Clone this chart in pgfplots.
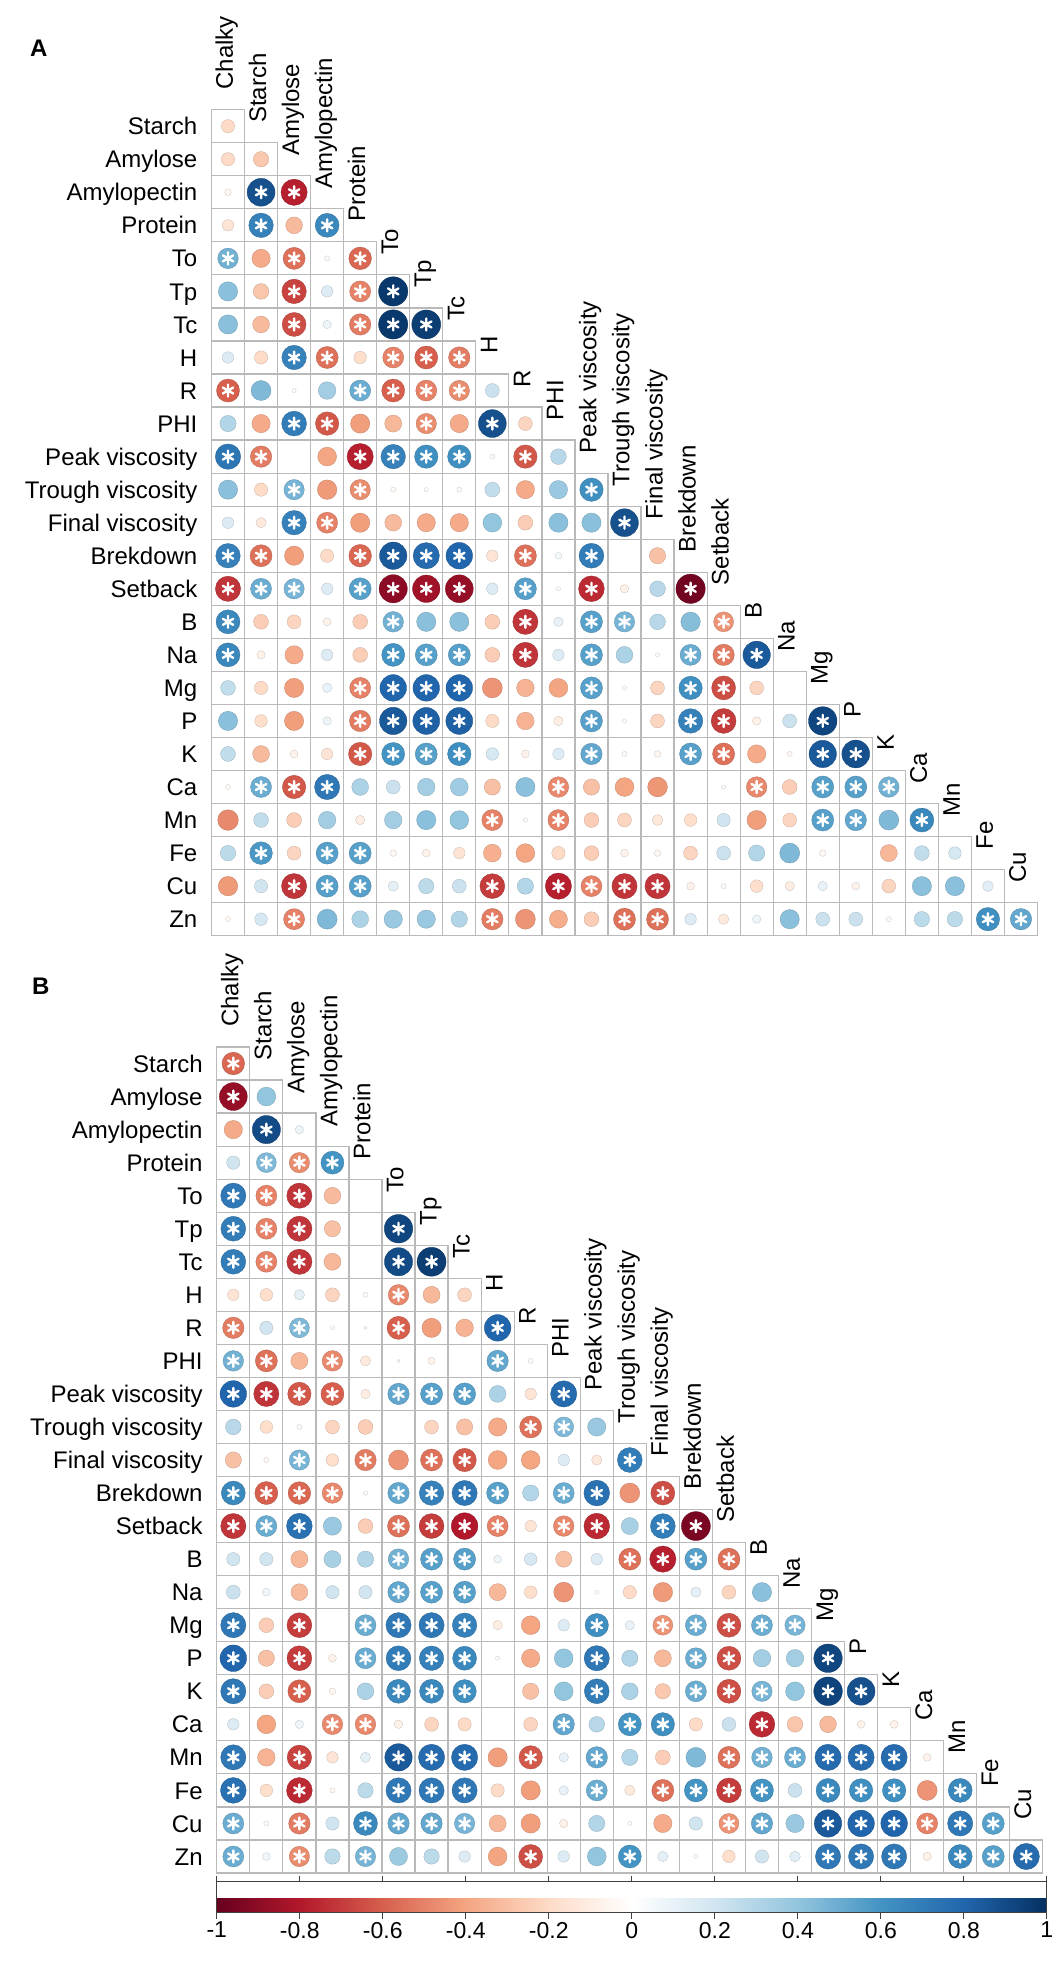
\documentclass[border=0pt]{standalone}
\usepackage{pgfplots}
\pgfplotsset{compat=1.18}
\usepackage{pgfplotstable}
\usepackage{fontspec}
\setmainfont{Liberation Sans}
\usetikzlibrary{plotmarks}

\newcommand\labfont{\fontsize{24}{28}\selectfont}

\pgfplotsset{
  colormap={RdBu}{rgb255=(103,0,31) rgb255=(178,24,43) rgb255=(214,96,77)
    rgb255=(244,165,130) rgb255=(253,219,199) rgb255=(255,255,255)
    rgb255=(209,229,240) rgb255=(146,197,222) rgb255=(67,147,195)
    rgb255=(33,102,172) rgb255=(5,48,97)},
  corr/.style={
    x=33.04pt, y=33.04pt, y dir=reverse,
    xmin=-0.5, xmax=24.5, ymin=0.5, ymax=25.5,
    clip=false, anchor=south west,
    axis line style={draw=none}, major tick length=0pt,
    xtick=\empty, ytick={1,...,25},
    yticklabels={Starch,Amylose,Amylopectin,Protein,To,Tp,Tc,H,R,PHI,Peak viscosity,Trough viscosity,Final viscosity,Brekdown,Setback,B,Na,Mg,P,K,Ca,Mn,Fe,Cu,Zn},
    yticklabel style={anchor=base east, inner sep=0pt, xshift=-14pt, yshift=-8.6pt, font=\labfont},
    colormap name=RdBu, point meta min=-1, point meta max=1,
  },
}

% x = column, y = row, r = correlation, s = significant
\pgfplotstableread[row sep=\\]{
x y r s \\
0 1 -0.20 0 \\
0 2 -0.20 0 \\ 1 2 -0.27 0 \\
0 3 -0.05 0 \\ 1 3 0.88 1 \\ 2 3 -0.78 1 \\
0 4 -0.15 0 \\ 1 4 0.68 1 \\ 2 4 -0.32 0 \\ 3 4 0.65 1 \\
0 5 0.48 1 \\ 1 5 -0.38 0 \\ 2 5 -0.55 1 \\ 3 5 0.03 0 \\ 4 5 -0.58 1 \\
0 6 0.42 0 \\ 1 6 -0.28 0 \\ 2 6 -0.68 1 \\ 3 6 0.15 0 \\ 4 6 -0.50 1 \\ 5 6 0.97 1 \\
0 7 0.42 0 \\ 1 7 -0.32 0 \\ 2 7 -0.65 1 \\ 3 7 0.08 0 \\ 4 7 -0.52 1 \\ 5 7 0.97 1 \\ 6 7 0.95 1 \\
0 8 0.15 0 \\ 1 8 -0.20 0 \\ 2 8 0.68 1 \\ 3 8 -0.55 1 \\ 4 8 -0.18 0 \\ 5 8 -0.50 1 \\ 6 8 -0.60 1 \\ 7 8 -0.52 1 \\
0 9 -0.60 1 \\ 1 9 0.45 0 \\ 2 9 0.02 0 \\ 3 9 0.35 0 \\ 4 9 0.50 1 \\ 5 9 -0.60 1 \\ 6 9 -0.50 1 \\ 7 9 -0.47 1 \\ 8 9 0.22 0 \\
0 10 0.30 0 \\ 1 10 -0.38 0 \\ 2 10 0.70 1 \\ 3 10 -0.62 1 \\ 4 10 -0.42 0 \\ 5 10 -0.33 0 \\ 6 10 -0.47 1 \\ 7 10 -0.38 0 \\ 8 10 0.88 1 \\ 9 10 -0.22 0 \\
0 11 0.73 1 \\ 1 11 -0.52 1 \\ 2 11 0.00 0 \\ 3 11 -0.40 0 \\ 4 11 -0.78 1 \\ 5 11 0.68 1 \\ 6 11 0.62 1 \\ 7 11 0.62 1 \\ 8 11 0.03 0 \\ 9 11 -0.62 1 \\ 10 11 0.28 0 \\
0 12 0.42 0 \\ 1 12 -0.20 0 \\ 2 12 0.47 1 \\ 3 12 -0.43 0 \\ 4 12 -0.47 1 \\ 5 12 -0.03 0 \\ 6 12 0.02 0 \\ 7 12 0.03 0 \\ 8 12 0.25 0 \\ 9 12 -0.38 0 \\ 10 12 0.38 0 \\ 11 12 0.62 1 \\
0 13 0.15 0 \\ 1 13 -0.12 0 \\ 2 13 0.68 1 \\ 3 13 -0.50 1 \\ 4 13 -0.42 0 \\ 5 13 -0.32 0 \\ 6 13 -0.38 0 \\ 7 13 -0.38 0 \\ 8 13 0.40 0 \\ 9 13 -0.25 0 \\ 10 13 0.42 0 \\ 11 13 0.42 0 \\ 12 13 0.88 1 \\
0 14 0.68 1 \\ 1 14 -0.55 1 \\ 2 14 -0.42 0 \\ 3 14 -0.20 0 \\ 4 14 -0.58 1 \\ 5 14 0.85 1 \\ 6 14 0.78 1 \\ 7 14 0.80 1 \\ 8 14 -0.15 0 \\ 9 14 -0.55 1 \\ 10 14 0.05 0 \\ 11 14 0.70 1 \\ 12 14 0.00 0 \\ 13 14 -0.30 0 \\
0 15 -0.72 1 \\ 1 15 0.50 1 \\ 2 15 0.47 1 \\ 3 15 0.15 0 \\ 4 15 0.55 1 \\ 5 15 -0.90 1 \\ 6 15 -0.85 1 \\ 7 15 -0.88 1 \\ 8 15 0.15 0 \\ 9 15 0.55 1 \\ 10 15 0.02 0 \\ 11 15 -0.75 1 \\ 12 15 -0.08 0 \\ 13 15 0.28 0 \\ 14 15 -0.97 1 \\
0 16 0.65 1 \\ 1 16 -0.25 0 \\ 2 16 -0.22 0 \\ 3 16 -0.07 0 \\ 4 16 -0.25 0 \\ 5 16 0.48 1 \\ 6 16 0.42 0 \\ 7 16 0.42 0 \\ 8 16 -0.25 0 \\ 9 16 -0.72 1 \\ 10 16 0.10 0 \\ 11 16 0.55 1 \\ 12 16 0.47 1 \\ 13 16 0.28 0 \\ 14 16 0.43 0 \\ 15 16 -0.45 1 \\
0 17 0.65 1 \\ 1 17 -0.08 0 \\ 2 17 -0.38 0 \\ 3 17 0.15 0 \\ 4 17 -0.25 0 \\ 5 17 0.60 1 \\ 6 17 0.55 1 \\ 7 17 0.55 1 \\ 8 17 -0.25 0 \\ 9 17 -0.72 1 \\ 10 17 0.15 0 \\ 11 17 0.55 1 \\ 12 17 0.32 0 \\ 13 17 0.02 0 \\ 14 17 0.50 1 \\ 15 17 -0.52 1 \\ 16 17 0.85 1 \\
0 18 0.25 0 \\ 1 18 -0.20 0 \\ 2 18 -0.42 0 \\ 3 18 0.10 0 \\ 4 18 -0.50 1 \\ 5 18 0.80 1 \\ 6 18 0.80 1 \\ 7 18 0.80 1 \\ 8 18 -0.45 0 \\ 9 18 -0.35 0 \\ 10 18 -0.40 0 \\ 11 18 0.55 1 \\ 12 18 0.02 0 \\ 13 18 -0.22 0 \\ 14 18 0.62 1 \\ 15 18 -0.65 1 \\ 16 18 -0.22 0 \\ 17 18 0.00 0 \\
0 19 0.42 0 \\ 1 19 -0.18 0 \\ 2 19 -0.42 0 \\ 3 19 0.08 0 \\ 4 19 -0.52 1 \\ 5 19 0.85 1 \\ 6 19 0.82 1 \\ 7 19 0.82 1 \\ 8 19 -0.20 0 \\ 9 19 -0.35 0 \\ 10 19 -0.10 0 \\ 11 19 0.55 1 \\ 12 19 0.02 0 \\ 13 19 -0.22 0 \\ 14 19 0.68 1 \\ 15 19 -0.70 1 \\ 16 19 -0.08 0 \\ 17 19 0.22 0 \\ 18 19 0.92 1 \\
0 20 0.25 0 \\ 1 20 -0.32 0 \\ 2 20 -0.07 0 \\ 3 20 -0.15 0 \\ 4 20 -0.62 1 \\ 5 20 0.60 1 \\ 6 20 0.55 1 \\ 7 20 0.62 1 \\ 8 20 0.18 0 \\ 9 20 -0.07 0 \\ 10 20 0.15 0 \\ 11 20 0.52 1 \\ 12 20 0.03 0 \\ 13 20 -0.05 0 \\ 14 20 0.55 1 \\ 15 20 -0.55 1 \\ 16 20 -0.38 0 \\ 17 20 -0.03 0 \\ 18 20 0.85 1 \\ 19 20 0.88 1 \\
0 21 -0.03 0 \\ 1 21 0.50 1 \\ 2 21 -0.62 1 \\ 3 21 0.72 1 \\ 4 21 0.32 0 \\ 5 21 0.22 0 \\ 6 21 0.35 0 \\ 7 21 0.36 0 \\ 8 21 -0.30 0 \\ 9 21 0.42 0 \\ 10 21 -0.48 1 \\ 11 21 -0.30 0 \\ 12 21 -0.40 0 \\ 13 21 -0.44 0 \\ 14 21 0.00 0 \\ 15 21 0.02 0 \\ 16 21 -0.48 1 \\ 17 21 -0.25 0 \\ 18 21 0.55 1 \\ 19 21 0.55 1 \\ 20 21 0.48 1 \\
0 22 -0.48 0 \\ 1 22 0.25 0 \\ 2 22 -0.25 0 \\ 3 22 0.35 0 \\ 4 22 -0.10 0 \\ 5 22 0.35 0 \\ 6 22 0.42 0 \\ 7 22 0.40 0 \\ 8 22 -0.50 1 \\ 9 22 0.02 0 \\ 10 22 -0.50 1 \\ 11 22 -0.25 0 \\ 12 22 -0.22 0 \\ 13 22 -0.13 0 \\ 14 22 -0.18 0 \\ 15 22 0.20 0 \\ 16 22 -0.42 0 \\ 17 22 -0.22 0 \\ 18 22 0.55 1 \\ 19 22 0.52 1 \\ 20 22 0.45 0 \\ 21 22 0.65 1 \\
0 23 0.27 0 \\ 1 23 0.58 1 \\ 2 23 -0.22 0 \\ 3 23 0.55 1 \\ 4 23 0.55 1 \\ 5 23 -0.05 0 \\ 6 23 -0.07 0 \\ 7 23 -0.15 0 \\ 8 23 -0.36 0 \\ 9 23 -0.40 0 \\ 10 23 -0.20 0 \\ 11 23 -0.25 0 \\ 12 23 -0.07 0 \\ 13 23 -0.05 0 \\ 14 23 -0.22 0 \\ 15 23 0.22 0 \\ 16 23 0.30 0 \\ 17 23 0.45 0 \\ 18 23 -0.05 0 \\ 19 23 0.00 0 \\ 20 23 -0.33 0 \\ 21 23 0.25 0 \\ 22 23 0.18 0 \\
0 24 -0.43 0 \\ 1 24 0.20 0 \\ 2 24 -0.72 1 \\ 3 24 0.55 1 \\ 4 24 0.55 1 \\ 5 24 0.12 0 \\ 6 24 0.27 0 \\ 7 24 0.22 0 \\ 8 24 -0.70 1 \\ 9 24 0.30 0 \\ 10 24 -0.78 1 \\ 11 24 -0.50 1 \\ 12 24 -0.72 1 \\ 13 24 -0.72 1 \\ 14 24 -0.07 0 \\ 15 24 0.03 0 \\ 16 24 -0.18 0 \\ 17 24 -0.10 0 \\ 18 24 0.10 0 \\ 19 24 -0.07 0 \\ 20 24 -0.22 0 \\ 21 24 0.42 0 \\ 22 24 0.42 0 \\ 23 24 0.13 0 \\
0 25 -0.03 0 \\ 1 25 0.18 0 \\ 2 25 -0.50 1 \\ 3 25 0.45 0 \\ 4 25 0.32 0 \\ 5 25 0.38 0 \\ 6 25 0.38 0 \\ 7 25 0.30 0 \\ 8 25 -0.52 1 \\ 9 25 -0.45 0 \\ 10 25 -0.37 0 \\ 11 25 -0.25 0 \\ 12 25 -0.55 1 \\ 13 25 -0.55 1 \\ 14 25 0.15 0 \\ 15 25 -0.12 0 \\ 16 25 0.08 0 \\ 17 25 0.42 0 \\ 18 25 0.22 0 \\ 19 25 0.22 0 \\ 20 25 0.03 0 \\ 21 25 0.27 0 \\ 22 25 0.27 0 \\ 23 25 0.62 1 \\ 24 25 0.52 1 \\
}\dataA

\pgfplotstableread[row sep=\\]{
x y r s \\
0 1 -0.58 1 \\
0 2 -0.88 1 \\ 1 2 0.40 0 \\
0 3 -0.38 0 \\ 1 3 0.90 1 \\ 2 3 0.08 0 \\
0 4 0.20 0 \\ 1 4 0.45 1 \\ 2 4 -0.47 1 \\ 3 4 0.60 1 \\
0 5 0.72 1 \\ 1 5 -0.50 1 \\ 2 5 -0.72 1 \\ 3 5 -0.32 0 \\ 4 5 0.00 0 \\
0 6 0.70 1 \\ 1 6 -0.50 1 \\ 2 6 -0.72 1 \\ 3 6 -0.30 0 \\ 4 6 0.00 0 \\ 5 6 0.92 1 \\
0 7 0.70 1 \\ 1 7 -0.50 1 \\ 2 7 -0.72 1 \\ 3 7 -0.33 0 \\ 4 7 0.00 0 \\ 5 7 0.90 1 \\ 6 7 0.95 1 \\
0 8 -0.15 0 \\ 1 8 -0.18 0 \\ 2 8 0.12 0 \\ 3 8 -0.22 0 \\ 4 8 0.03 0 \\ 5 8 -0.48 1 \\ 6 8 -0.33 0 \\ 7 8 -0.22 0 \\
0 9 -0.52 1 \\ 1 9 0.20 0 \\ 2 9 0.45 1 \\ 3 9 0.02 0 \\ 4 9 0.01 0 \\ 5 9 -0.60 1 \\ 6 9 -0.42 0 \\ 7 9 -0.35 0 \\ 8 9 0.80 1 \\
0 10 0.48 1 \\ 1 10 -0.55 1 \\ 2 10 -0.33 0 \\ 3 10 -0.48 1 \\ 4 10 -0.12 0 \\ 5 10 0.01 0 \\ 6 10 -0.06 0 \\ 7 10 0.00 0 \\ 8 10 0.52 1 \\ 9 10 0.03 0 \\
0 11 0.80 1 \\ 1 11 -0.72 1 \\ 2 11 -0.62 1 \\ 3 11 -0.60 1 \\ 4 11 -0.10 0 \\ 5 11 0.52 1 \\ 6 11 0.55 1 \\ 7 11 0.55 1 \\ 8 11 0.32 0 \\ 9 11 -0.15 0 \\ 10 11 0.78 1 \\
0 12 0.28 0 \\ 1 12 -0.18 0 \\ 2 12 0.03 0 \\ 3 12 -0.22 0 \\ 4 12 -0.25 0 \\ 5 12 0.00 0 \\ 6 12 -0.22 0 \\ 7 12 -0.30 0 \\ 8 12 -0.38 0 \\ 9 12 -0.55 1 \\ 10 12 0.45 1 \\ 11 12 0.38 0 \\
0 13 -0.30 0 \\ 1 13 -0.03 0 \\ 2 13 0.47 1 \\ 3 13 -0.18 0 \\ 4 13 -0.52 1 \\ 5 13 -0.45 0 \\ 6 13 -0.55 1 \\ 7 13 -0.62 1 \\ 8 13 -0.40 0 \\ 9 13 -0.40 0 \\ 10 13 0.15 0 \\ 11 13 -0.12 0 \\ 12 13 0.70 1 \\
0 14 0.65 1 \\ 1 14 -0.60 1 \\ 2 14 -0.58 1 \\ 3 14 -0.48 1 \\ 4 14 0.02 0 \\ 5 14 0.52 1 \\ 6 14 0.68 1 \\ 7 14 0.72 1 \\ 8 14 0.55 1 \\ 9 14 0.30 0 \\ 10 14 0.50 1 \\ 11 14 0.75 1 \\ 12 14 -0.45 0 \\ 13 14 -0.65 1 \\
0 15 -0.72 1 \\ 1 15 0.50 1 \\ 2 15 0.75 1 \\ 3 15 0.38 0 \\ 4 15 -0.25 0 \\ 5 15 -0.55 1 \\ 6 15 -0.70 1 \\ 7 15 -0.80 1 \\ 8 15 -0.50 1 \\ 9 15 -0.15 0 \\ 10 15 -0.48 1 \\ 11 15 -0.75 1 \\ 12 15 0.33 0 \\ 13 15 0.70 1 \\ 14 15 -0.95 1 \\
0 16 0.20 0 \\ 1 16 0.20 0 \\ 2 16 -0.33 0 \\ 3 16 0.33 0 \\ 4 16 0.30 0 \\ 5 16 0.48 1 \\ 6 16 0.55 1 \\ 7 16 0.55 1 \\ 8 16 0.07 0 \\ 9 16 0.18 0 \\ 10 16 -0.30 0 \\ 11 16 0.15 0 \\ 12 16 -0.55 1 \\ 13 16 -0.78 1 \\ 14 16 0.55 1 \\ 15 16 -0.55 1 \\
0 17 0.22 0 \\ 1 17 0.07 0 \\ 2 17 -0.32 0 \\ 3 17 0.20 0 \\ 4 17 0.20 0 \\ 5 17 0.52 1 \\ 6 17 0.55 1 \\ 7 17 0.55 1 \\ 8 17 -0.33 0 \\ 9 17 -0.18 0 \\ 10 17 -0.45 0 \\ 11 17 -0.02 0 \\ 12 17 -0.20 0 \\ 13 17 -0.43 0 \\ 14 17 0.12 0 \\ 15 17 -0.22 0 \\ 16 17 0.42 0 \\
0 18 0.72 1 \\ 1 18 -0.25 0 \\ 2 18 -0.70 1 \\ 3 18 0.00 0 \\ 4 18 0.50 1 \\ 5 18 0.72 1 \\ 6 18 0.72 1 \\ 7 18 0.68 1 \\ 8 18 -0.10 0 \\ 9 18 -0.40 0 \\ 10 18 0.15 0 \\ 11 18 0.62 1 \\ 12 18 0.10 0 \\ 13 18 -0.45 1 \\ 14 18 0.50 1 \\ 15 18 -0.65 1 \\ 16 18 0.50 1 \\ 17 18 0.47 1 \\
0 19 0.80 1 \\ 1 19 -0.30 0 \\ 2 19 -0.70 1 \\ 3 19 -0.07 0 \\ 4 19 0.50 1 \\ 5 19 0.70 1 \\ 6 19 0.68 1 \\ 7 19 0.65 1 \\ 8 19 0.02 0 \\ 9 19 -0.38 0 \\ 10 19 0.40 0 \\ 11 19 0.72 1 \\ 12 19 0.30 0 \\ 13 19 -0.33 0 \\ 14 19 0.50 1 \\ 15 19 -0.65 1 \\ 16 19 0.35 0 \\ 17 19 0.35 0 \\ 18 19 0.92 1 \\
0 20 0.72 1 \\ 1 20 -0.25 0 \\ 2 20 -0.60 1 \\ 3 20 -0.05 0 \\ 4 20 0.32 0 \\ 5 20 0.65 1 \\ 6 20 0.65 1 \\ 7 20 0.62 1 \\ 8 20 0.00 0 \\ 9 20 -0.30 0 \\ 10 20 0.40 0 \\ 11 20 0.70 1 \\ 12 20 0.32 0 \\ 13 20 -0.27 0 \\ 14 20 0.50 1 \\ 15 20 -0.65 1 \\ 16 20 0.47 1 \\ 17 20 0.40 0 \\ 18 20 0.93 1 \\ 19 20 0.88 1 \\
0 21 0.15 0 \\ 1 21 -0.40 0 \\ 2 21 0.08 0 \\ 3 21 -0.48 1 \\ 4 21 -0.48 1 \\ 5 21 -0.08 0 \\ 6 21 -0.22 0 \\ 7 21 -0.20 0 \\ 8 21 0.00 0 \\ 9 21 -0.22 0 \\ 10 21 0.52 1 \\ 11 21 0.28 0 \\ 12 21 0.60 1 \\ 13 21 0.62 1 \\ 14 21 -0.20 0 \\ 15 21 0.22 0 \\ 16 21 -0.75 1 \\ 17 21 -0.28 0 \\ 18 21 -0.32 0 \\ 19 21 -0.07 0 \\ 20 21 -0.07 0 \\
0 22 0.72 1 \\ 1 22 -0.35 0 \\ 2 22 -0.68 1 \\ 3 22 -0.15 0 \\ 4 22 0.12 0 \\ 5 22 0.85 1 \\ 6 22 0.78 1 \\ 7 22 0.78 1 \\ 8 22 -0.42 0 \\ 9 22 -0.62 1 \\ 10 22 0.10 0 \\ 11 22 0.52 1 \\ 12 22 0.30 0 \\ 13 22 -0.25 0 \\ 14 22 0.45 0 \\ 15 22 -0.55 1 \\ 16 22 0.48 1 \\ 17 22 0.50 1 \\ 18 22 0.78 1 \\ 19 22 0.78 1 \\ 20 22 0.78 1 \\ 21 22 -0.07 0 \\
0 23 0.75 1 \\ 1 23 -0.18 0 \\ 2 23 -0.75 1 \\ 3 23 -0.03 0 \\ 4 23 0.27 0 \\ 5 23 0.72 1 \\ 6 23 0.72 1 \\ 7 23 0.72 1 \\ 8 23 -0.20 0 \\ 9 23 -0.42 0 \\ 10 23 0.10 0 \\ 11 23 0.50 1 \\ 12 23 -0.12 0 \\ 13 23 -0.55 1 \\ 14 23 0.60 1 \\ 15 23 -0.70 1 \\ 16 23 0.60 1 \\ 17 23 0.22 0 \\ 18 23 0.65 1 \\ 19 23 0.62 1 \\ 20 23 0.62 1 \\ 21 23 -0.45 0 \\ 22 23 0.65 1 \\
0 24 0.50 1 \\ 1 24 -0.03 0 \\ 2 24 -0.52 1 \\ 3 24 0.20 0 \\ 4 24 0.65 1 \\ 5 24 0.52 1 \\ 6 24 0.52 1 \\ 7 24 0.47 1 \\ 8 24 -0.33 0 \\ 9 24 -0.42 0 \\ 10 24 -0.08 0 \\ 11 24 0.30 0 \\ 12 24 0.02 0 \\ 13 24 -0.38 0 \\ 14 24 0.20 0 \\ 15 24 -0.45 1 \\ 16 24 0.52 1 \\ 17 24 0.38 0 \\ 18 24 0.85 1 \\ 19 24 0.80 1 \\ 20 24 0.80 1 \\ 21 24 -0.50 1 \\ 22 24 0.72 1 \\ 23 24 0.55 1 \\
0 25 0.50 1 \\ 1 25 0.07 0 \\ 2 25 -0.47 1 \\ 3 25 0.27 0 \\ 4 25 0.47 1 \\ 5 25 0.37 0 \\ 6 25 0.27 0 \\ 7 25 0.15 0 \\ 8 25 -0.40 0 \\ 9 25 -0.65 1 \\ 10 25 0.15 0 \\ 11 25 0.40 0 \\ 12 25 0.60 1 \\ 13 25 0.12 0 \\ 14 25 0.02 0 \\ 15 25 -0.18 0 \\ 16 25 0.20 0 \\ 17 25 0.13 0 \\ 18 25 0.72 1 \\ 19 25 0.72 1 \\ 20 25 0.72 1 \\ 21 25 -0.08 0 \\ 22 25 0.65 1 \\ 23 25 0.55 1 \\ 24 25 0.78 1 \\
}\dataB

\newcommand\corrlayers[1]{%
  \addplot[only marks, mark=square, mark size=16.52pt,
    mark options={draw=gray!55, line width=1.2pt, fill=none}]
    table[x=x, y=y] {#1};
  \addplot[scatter, only marks, mark=*, scatter src=explicit,
    visualization depends on={14.87*sqrt(abs(\thisrow{r})) \as \rad},
    scatter/@pre marker code/.append style={/tikz/mark size=\rad},
    mark options={line width=0.3pt}]
    table[x=x, y=y, meta=r] {#1};
  \addplot[only marks, mark=asterisk, mark size=6pt,
    mark options={draw=white, line width=2.4pt, line cap=round},
    restrict expr to domain={\thisrow{s}}{0.5:1.5}]
    table[x=x, y=y] {#1};
  \foreach \name [count=\i from 0] in {Chalky,Starch,Amylose,Amylopectin,Protein,To,Tp,Tc,H,R,PHI,Peak viscosity,Trough viscosity,Final viscosity,Brekdown,Setback,B,Na,Mg,P,K,Ca,Mn,Fe,Cu} {
    \edef\tmp{\noexpand\node[rotate=90, anchor=base west, inner sep=0pt, font=\noexpand\labfont]
      at (axis cs:\i+0.15,\i-0.1) {\name};}
    \tmp
  }
}

\begin{document}
\begin{tikzpicture}
\useasboundingbox (0,0) rectangle (1063pt,1966pt);

\begin{axis}[corr, at={(211.5pt,1030.3pt)}]
\corrlayers{\dataA}
\end{axis}

\begin{axis}[corr, at={(216.8pt,93pt)},
  colorbar horizontal,
  colorbar style={
    at={([xshift=-3.8pt,yshift=-24pt]parent axis.south west)}, anchor=north west,
    width=830pt, height=31pt, scale only axis,
    xtick={-1,-0.8,-0.6,-0.4,-0.2,0,0.2,0.4,0.6,0.8,1},
    xticklabels={-1,-0.8,-0.6,-0.4,-0.2,0,0.2,0.4,0.6,0.8,1},
    xtick align=outside, major tick length=6pt,
    xticklabel style={font=\fontsize{23}{26}\selectfont},
    axis line style={black!75, line width=0.8pt},
    tick style={black!75, line width=0.8pt},
  }]
\corrlayers{\dataB}
\end{axis}

\node[anchor=base west, inner sep=0pt, font=\bfseries\labfont] at (30pt,1909pt) {A};
\node[anchor=base west, inner sep=0pt, font=\bfseries\labfont] at (32pt,971pt) {B};
\end{tikzpicture}
\end{document}
